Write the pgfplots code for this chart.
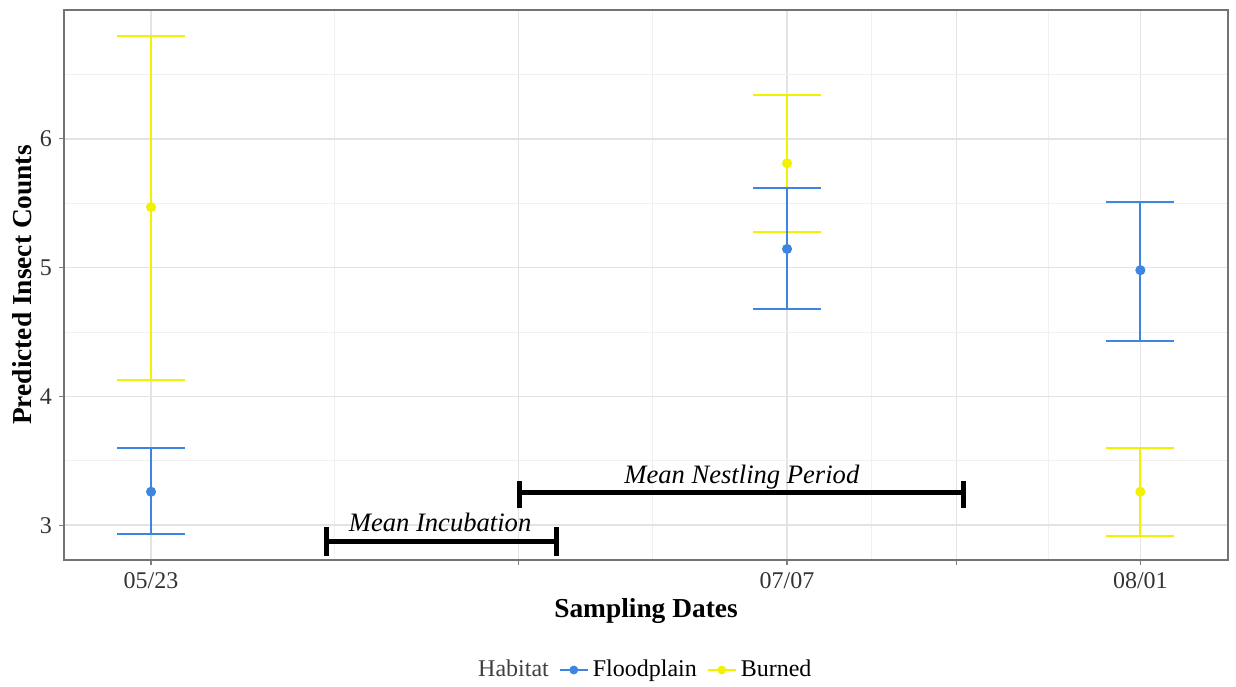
\documentclass[border=0pt]{standalone}
\usepackage{fontspec}
\setmainfont{Liberation Serif}
\usepackage{pgfplots}
\pgfplotsset{compat=1.18}
\definecolor{Flood}{HTML}{3D85E0}
\definecolor{Burn}{HTML}{F2F200}
\definecolor{GridMaj}{HTML}{E3E3E3}
\definecolor{GridMin}{HTML}{F0F0F0}

\begin{document}
\begin{tikzpicture}
\useasboundingbox (-32pt,-63pt) rectangle (586pt,280pt);
\begin{axis}[
  at={(0,0)}, anchor=south west, scale only axis,
  width=582pt, height=275pt,
  xmin=-6.16, xmax=76.2, ymin=2.73, ymax=7.0,
  xtick={0,26,45,57,70}, xticklabels={05/23,,07/07,,08/01},
  minor xtick={13,35.5,51,63.5},
  ytick={3,4,5,6}, minor ytick={3.5,4.5,5.5,6.5},
  /pgf/number format/assume math mode=true,
  tick label style={font=\fontsize{12}{14}\selectfont, text=black!80},
  tick align=outside, tick pos=left,
  major tick length=2.5pt, minor tick length=0pt,
  every tick/.style={draw=black!50, line width=0.6pt},
  grid=both,
  major grid style={draw=GridMaj, line width=0.8pt},
  minor grid style={draw=GridMin, line width=0.5pt},
  axis line style={draw=black!55, line width=0.6pt},
  xlabel={\textbf{Sampling Dates}},
  ylabel={\textbf{Predicted Insect Counts}},
  label style={font=\fontsize{13.7}{16}\selectfont},
  xlabel style={yshift=2pt},
  ylabel style={yshift=-3pt},
  legend style={at={(0.499,-0.2)}, anchor=center, draw=none, fill=none,
    legend columns=-1, font=\fontsize{12}{14}\selectfont,
    /tikz/every even column/.append style={column sep=3pt}},
  legend cell align=left,
  legend image code/.code={
    \draw[#1, mark=none, line width=1pt] (0pt,0pt) -- (14pt,0pt);
    \fill[#1] (7pt,0pt) circle (2pt);
  },
]
\addlegendimage{empty legend}
\addlegendentry{\textcolor{black!75}{Habitat}}
\addlegendimage{Flood}
\addlegendentry{Floodplain}
\addlegendimage{Burn}
\addlegendentry{Burned}

% Burned
\addplot[Burn, only marks, mark=*, mark size=2pt, line width=1pt, forget plot,
  error bars/.cd, y dir=both, y explicit,
  error mark=|, error mark options={mark size=17pt, line width=1pt, draw=Burn},
  error bar style={line width=1pt, draw=Burn}]
  table[x=x, y=y, y error plus=ep, y error minus=em] {
x  y     ep    em
0  5.47  1.33  1.34
45 5.81  0.53  0.53
70 3.26  0.34  0.34
};
% Floodplain
\addplot[Flood, only marks, mark=*, mark size=2pt, line width=1pt, forget plot,
  error bars/.cd, y dir=both, y explicit,
  error mark=|, error mark options={mark size=17pt, line width=1pt, draw=Flood},
  error bar style={line width=1pt, draw=Flood}]
  table[x=x, y=y, y error plus=ep, y error minus=em] {
x  y     ep    em
0  3.26  0.34  0.33
45 5.145 0.47  0.465
70 4.98  0.53  0.55
};

% annotations
\draw[line width=2.5pt] (axis cs:12.4,2.876) -- (axis cs:28.7,2.876);
\draw[line width=2.5pt] (axis cs:12.4,2.76) -- (axis cs:12.4,2.984);
\draw[line width=2.5pt] (axis cs:28.7,2.76) -- (axis cs:28.7,2.984);
\node[font=\fontsize{13.3}{15}\selectfont\itshape] at (axis cs:20.45,3.02) {Mean Incubation};
\draw[line width=2.5pt] (axis cs:26.1,3.256) -- (axis cs:57.5,3.256);
\draw[line width=2.5pt] (axis cs:26.1,3.13) -- (axis cs:26.1,3.34);
\draw[line width=2.5pt] (axis cs:57.5,3.13) -- (axis cs:57.5,3.34);
\node[font=\fontsize{13.3}{15}\selectfont\itshape] at (axis cs:41.8,3.37) {Mean Nestling Period};
\end{axis}
\end{tikzpicture}
\end{document}
